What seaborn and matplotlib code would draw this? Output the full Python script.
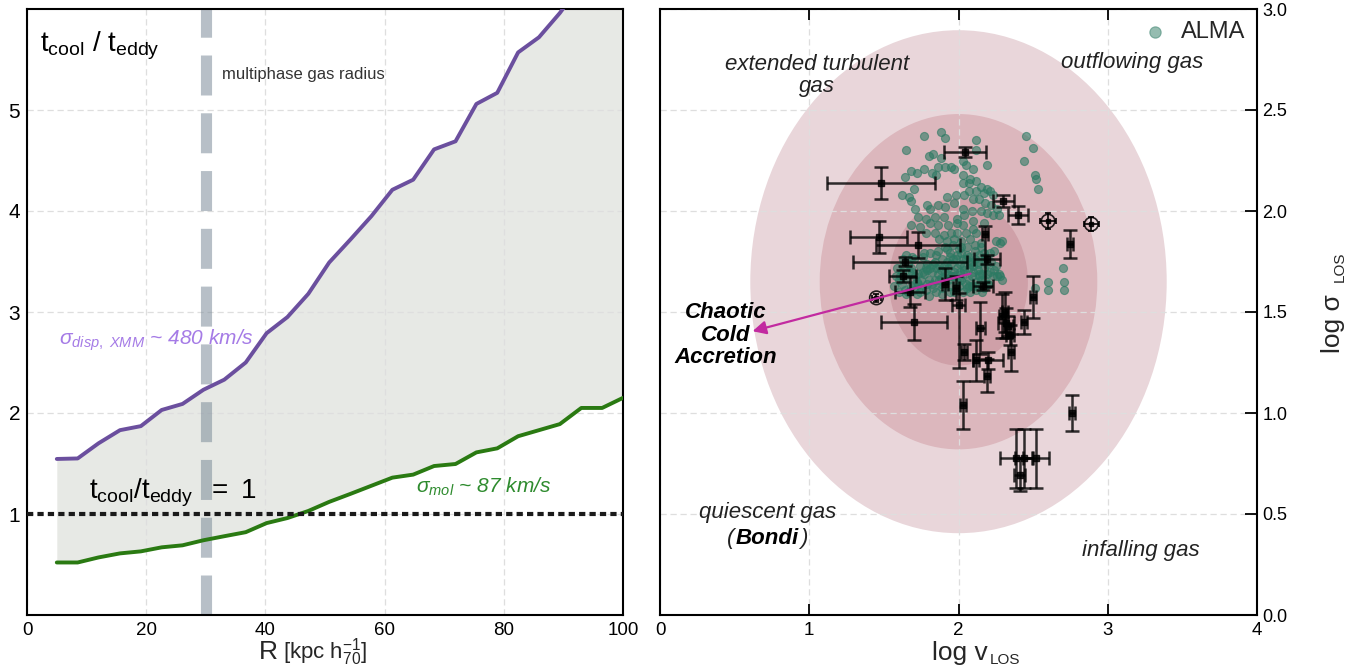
import numpy as np
import pandas as pd
import matplotlib
matplotlib.use("Agg")
import matplotlib.pyplot as plt
from matplotlib.patches import Ellipse
from matplotlib.offsetbox import TextArea, HPacker, AnnotationBbox
import seaborn as sns

sns.set_theme(style="white")
plt.rcParams["font.family"] = ["Liberation Sans", "DejaVu Sans"]
plt.rcParams["mathtext.fontset"] = "custom"
plt.rcParams["mathtext.rm"] = "Liberation Sans"
plt.rcParams["mathtext.it"] = "Liberation Sans:italic"
plt.rcParams["mathtext.bf"] = "Liberation Sans:bold"

# ---------------------------------------------------------------- data
# Left: t_cool / t_eddy profiles versus radius
radius = [5.0, 8.5, 12.0, 15.6, 19.1, 22.6, 26.1, 29.6, 33.1, 36.7, 40.2, 43.7,
          47.2, 50.7, 54.3, 57.8, 61.3, 64.8, 68.3, 71.9, 75.4, 78.9, 82.4,
          85.9, 89.4, 93.0, 96.5, 100.0]
ratio_xmm = [1.545, 1.55, 1.70, 1.83, 1.87, 2.03, 2.09, 2.23, 2.33, 2.50, 2.79,
             2.95, 3.18, 3.49, 3.72, 3.95, 4.21, 4.31, 4.61, 4.69, 5.06, 5.17,
             5.57, 5.72, 5.96, 6.25, 6.45, 6.75]
ratio_mol = [0.52, 0.52, 0.57, 0.61, 0.63, 0.67, 0.69, 0.74, 0.78, 0.82, 0.91,
             0.96, 1.03, 1.12, 1.20, 1.28, 1.36, 1.39, 1.475, 1.495, 1.61, 1.65,
             1.77, 1.83, 1.89, 2.05, 2.05, 2.15]
multiphase_radius = 30.0

# Right: ALMA clouds in the log v_LOS - log sigma_LOS plane
alma_log_v = [
    1.88, 1.91, 1.77, 2.12, 1.65, 2.12, 1.83, 1.80, 1.88, 1.86,
    1.91, 1.95, 1.97, 2.03, 2.05, 2.10, 2.19, 1.82, 1.85, 1.77,
    1.72, 1.68, 1.64, 2.03, 2.08, 2.12, 2.03, 2.07, 2.15, 2.19,
    2.21, 2.07, 2.12, 2.17, 2.23, 1.70, 1.62, 1.67, 1.92, 1.98,
    2.04, 2.10, 2.14, 2.18, 2.22, 2.26, 1.68, 1.71, 1.79, 1.81,
    1.86, 1.91, 1.97, 2.03, 2.09, 2.15, 2.19, 2.23, 2.27, 1.73,
    1.78, 1.84, 1.90, 1.99, 2.04, 2.10, 2.17, 1.68, 1.74, 1.81,
    1.86, 1.93, 1.99, 2.03, 2.10, 1.78, 1.84, 1.90, 1.95, 1.99,
    2.05, 2.12, 1.87, 1.92, 1.97, 2.02, 2.08, 2.15, 2.25, 2.28,
    1.65, 1.70, 1.77, 1.81, 1.86, 1.91, 1.96, 2.00, 2.06, 2.11,
    2.17, 2.21, 1.63, 1.68, 1.74, 1.79, 1.84, 1.89, 1.94, 1.99,
    2.03, 2.09, 2.13, 2.19, 2.25, 1.61, 1.65, 1.71, 1.77, 1.82,
    1.88, 1.93, 1.99, 2.04, 2.10, 2.16, 2.21, 1.62, 1.68, 1.73,
    1.79, 1.84, 1.90, 1.95, 2.01, 2.07, 2.12, 2.18, 2.26, 1.65,
    1.72, 1.78, 1.83, 1.89, 1.94, 2.00, 2.06, 2.12, 2.17, 2.29,
    2.27, 1.66, 1.69, 1.72, 1.75, 1.78, 1.80, 1.83, 1.86, 1.88,
    1.90, 1.93, 1.95, 1.97, 1.99, 2.01, 2.03, 2.05, 2.07, 2.09,
    2.11, 2.13, 2.15, 2.17, 2.19, 2.02, 2.06, 1.94, 1.85, 2.14,
    2.22, 1.62, 1.64, 1.97, 2.08, 1.60, 2.45, 2.50, 2.44, 2.51,
    2.52, 2.53, 2.51, 2.60, 2.60, 2.70, 2.71, 2.71, 2.29, 2.28,
    1.75, 1.82, 1.87, 1.92, 1.98, 2.04, 2.09, 2.14, 2.20, 1.69,
    1.76, 1.81, 1.87, 1.92, 1.96, 2.02, 2.08, 2.13, 2.18, 2.23,
    1.57, 1.58, 1.59, 1.60, 1.63, 1.66, 1.70, 1.74, 1.80, 1.85,
    1.89, 1.94, 1.98, 2.03, 2.07, 2.11, 2.16, 2.20, 2.24, 2.15,
    1.67, 1.73, 1.79, 1.85, 1.91, 1.96, 2.01, 2.05, 2.10, 2.14,
    1.92, 1.97, 2.02, 1.88, 2.07, 2.11, 1.70, 1.76, 2.18, 2.24,
]
alma_log_sigma = [
    2.39, 2.36, 2.37, 2.35, 2.30, 2.30, 2.28, 2.27, 2.26, 2.22,
    2.22, 2.22, 2.21, 2.25, 2.23, 2.21, 2.23, 2.19, 2.18, 2.21,
    2.19, 2.20, 2.17, 2.18, 2.16, 2.15, 2.14, 2.14, 2.12, 2.11,
    2.10, 2.10, 2.10, 2.09, 2.08, 2.11, 2.08, 2.07, 2.07, 2.08,
    2.08, 2.06, 2.06, 2.04, 2.03, 2.01, 2.05, 2.01, 2.03, 2.01,
    2.03, 2.02, 2.04, 2.01, 2.00, 2.00, 1.99, 1.98, 1.98, 1.97,
    1.96, 1.97, 1.97, 1.96, 1.98, 1.95, 1.94, 1.93, 1.92, 1.94,
    1.93, 1.93, 1.94, 1.93, 1.91, 1.89, 1.89, 1.88, 1.89, 1.89,
    1.89, 1.89, 1.86, 1.85, 1.86, 1.85, 1.86, 1.84, 1.85, 1.84,
    1.78, 1.76, 1.79, 1.79, 1.80, 1.82, 1.83, 1.81, 1.82, 1.80,
    1.79, 1.79, 1.73, 1.72, 1.73, 1.74, 1.75, 1.76, 1.77, 1.78,
    1.76, 1.75, 1.74, 1.74, 1.73, 1.68, 1.67, 1.68, 1.69, 1.70,
    1.71, 1.72, 1.72, 1.71, 1.70, 1.69, 1.70, 1.64, 1.63, 1.64,
    1.64, 1.66, 1.67, 1.68, 1.67, 1.66, 1.65, 1.66, 1.68, 1.59,
    1.59, 1.61, 1.62, 1.62, 1.63, 1.63, 1.62, 1.61, 1.62, 1.66,
    1.69, 1.74, 1.70, 1.65, 1.62, 1.72, 1.66, 1.74, 1.69, 1.64,
    1.73, 1.66, 1.74, 1.70, 1.65, 1.74, 1.69, 1.64, 1.72, 1.68,
    1.76, 1.71, 1.66, 1.72, 1.69, 1.79, 1.78, 1.79, 1.78, 1.78,
    1.75, 1.70, 1.61, 1.60, 1.60, 1.66, 2.37, 2.31, 2.25, 2.18,
    2.16, 2.11, 1.62, 1.65, 1.61, 1.72, 1.65, 1.61, 1.85, 1.68,
    1.66, 1.64, 1.73, 1.69, 1.76, 1.73, 1.63, 1.69, 1.64, 1.77,
    1.70, 1.72, 1.66, 1.75, 1.68, 1.66, 1.74, 1.75, 1.77, 1.68,
    1.63, 1.68, 1.72, 1.60, 1.76, 1.60, 1.61, 1.60, 1.58, 1.60,
    1.59, 1.60, 1.62, 1.60, 1.63, 1.63, 1.60, 1.64, 1.71, 1.82,
    1.70, 1.69, 1.71, 1.72, 1.70, 1.76, 1.70, 1.76, 1.73, 1.68,
    1.81, 1.68, 1.82, 1.67, 1.77, 1.83, 1.64, 1.77, 1.76, 1.80,
]

# Other tracers with measurement uncertainties
obs_log_v = [1.48, 2.045, 1.465, 1.73, 1.64, 1.625, 1.91, 1.985, 2.18, 2.19,
             2.165, 2.00, 2.145, 2.12, 2.20, 2.19, 2.04, 2.03, 2.29, 2.31,
             2.32, 2.335, 2.355, 2.345, 2.44, 2.50, 2.75, 2.30, 2.40, 1.675,
             1.70, 2.76, 2.385, 2.44, 2.52, 2.41]
obs_log_sigma = [2.14, 2.29, 1.87, 1.83, 1.75, 1.68, 1.64, 1.62, 1.885, 1.76,
                 1.63, 1.535, 1.42, 1.26, 1.26, 1.185, 1.30, 1.04, 1.48, 1.50,
                 1.445, 1.43, 1.30, 1.385, 1.45, 1.575, 1.835, 2.05, 1.98, 1.60,
                 1.45, 1.00, 0.775, 0.775, 0.775, 0.695]
obs_v_err_lo = [0.36, 0.14, 0.19, 0.28, 0.35, 0.09, 0.02, 0.02, 0.02, 0.085,
                0.067, 0.045, 0.03, 0.02, 0.10, 0.02, 0.02, 0.02, 0.02, 0.02,
                0.055, 0.03, 0.02, 0.03, 0.02, 0.02, 0.02, 0.07, 0.067, 0.10,
                0.22, 0.02, 0.11, 0.06, 0.085, 0.037]
obs_v_err_hi = [0.36, 0.14, 0.19, 0.28, 0.42, 0.09, 0.02, 0.02, 0.02, 0.085,
                0.067, 0.045, 0.03, 0.02, 0.10, 0.02, 0.02, 0.02, 0.02, 0.02,
                0.055, 0.03, 0.02, 0.03, 0.02, 0.02, 0.02, 0.07, 0.067, 0.10,
                0.22, 0.02, 0.11, 0.06, 0.085, 0.037]
obs_sigma_err_lo = [0.08, 0.025, 0.08, 0.065, 0.02, 0.03, 0.08, 0.06, 0.26, 0.02,
                    0.02, 0.31, 0.13, 0.10, 0.04, 0.08, 0.04, 0.12, 0.11, 0.10,
                    0.075, 0.05, 0.09, 0.05, 0.06, 0.105, 0.07, 0.03, 0.046, 0.075,
                    0.09, 0.088, 0.146, 0.146, 0.146, 0.08]
obs_sigma_err_hi = [0.08, 0.025, 0.08, 0.065, 0.02, 0.03, 0.08, 0.06, 0.04, 0.02,
                    0.02, 0.06, 0.13, 0.10, 0.04, 0.08, 0.04, 0.12, 0.11, 0.10,
                    0.075, 0.05, 0.09, 0.05, 0.06, 0.105, 0.07, 0.03, 0.046, 0.075,
                    0.09, 0.088, 0.146, 0.146, 0.146, 0.08]

# Ringed detections
ring_log_v = [1.45, 2.60, 2.89]
ring_log_sigma = [1.57, 1.95, 1.935]
ring_v_err = [0.03, 0.055, 0.05]
ring_sigma_err = [0.02, 0.04, 0.035]

# CCA prediction: 1-2-3 sigma ellipses
cca_center = (2.0, 1.65)
cca_sigma = (0.465, 0.415)
cca_levels = [3, 2, 1]
cca_colors = ["#e9d6da", "#dcb7bd", "#cfa0a8"]

# ---------------------------------------------------------------- figure
fig = plt.figure(figsize=(13.52, 6.66), dpi=100)
ax1 = fig.add_axes([27 / 1352, 51 / 666, 596 / 1352, 606 / 666])
ax2 = fig.add_axes([660 / 1352, 51 / 666, 597 / 1352, 606 / 666])

grid_kw = dict(color="#dedede", linestyle=(0, (5, 3)), linewidth=0.9)

# ----- left panel
prof = pd.DataFrame({"R": radius, "xmm": ratio_xmm, "mol": ratio_mol})
ax1.fill_between(prof["R"], prof["mol"], prof["xmm"], color="#e7e9e5",
                 lw=0, zorder=1)
ax1.axvline(multiphase_radius, color="#7d8c9a", alpha=0.55, lw=8,
            dashes=(3.6, 1.6), zorder=2)
sns.lineplot(data=prof, x="R", y="xmm", ax=ax1, color="#6b4f9e", lw=2.8,
             zorder=4)
sns.lineplot(data=prof, x="R", y="mol", ax=ax1, color="#2a7a12", lw=2.8,
             zorder=4)
ax1.axhline(1.0, color="#1a1a1a", lw=3, dashes=(1.5, 1.0), zorder=5)

ax1.set_xlim(0, 100)
ax1.set_ylim(0, 6)
ax1.set_xticks([0, 20, 40, 60, 80, 100])
ax1.set_yticks([1, 2, 3, 4, 5])
ax1.set_xlabel("")
ax1.set_ylabel("")
ax1.grid(True, **grid_kw)
ax1.set_axisbelow("line")
ax1.tick_params(axis="both", direction="in", length=6, width=1.3,
                colors="black", labelcolor="black")
ax1.tick_params(axis="y", labelsize=15, pad=5)
ax1.tick_params(axis="x", labelsize=13.5, pad=5, length=8)
for s in ax1.spines.values():
    s.set_color("black")
    s.set_linewidth(1.5)

ax1.text(2.2, 5.64, r"$\mathregular{t_{cool}\ /\ t_{eddy}}$", fontsize=20,
         ha="left", va="center", color="black")
ax1.text(32.8, 5.35, "multiphase gas radius", fontsize=12, color="#333333",
         ha="left", va="center")
ax1.text(5.3, 2.72, r"σ$_{\mathit{disp,\ XMM}}$ ~ 480 km/s", fontsize=15,
         style="italic", color="#a57be6", ha="left", va="center")
ax1.text(10.4, 1.21, r"$\mathregular{t_{cool}/t_{eddy}\ \ =\ 1}$",
         fontsize=20, ha="left", va="center", color="black")
ax1.text(65.2, 1.27, r"σ$_{\mathit{mol}}$ ~ 87 km/s", fontsize=15,
         style="italic", color="#2e8b2e", ha="left", va="center")
ax1.text(0.405, -0.072, "R", transform=ax1.transAxes, fontsize=19,
         ha="center", va="baseline")
ax1.text(0.43, -0.072, r"$\mathregular{[kpc\ h_{70}^{-1}]}$",
         transform=ax1.transAxes, fontsize=16, ha="left", va="baseline")

# ----- right panel
for lev, fc in zip(cca_levels, cca_colors):
    ax2.add_patch(Ellipse(cca_center, width=2 * lev * cca_sigma[0],
                          height=2 * lev * cca_sigma[1], facecolor=fc,
                          edgecolor="none", zorder=1))

alma = pd.DataFrame({"log_v": alma_log_v, "log_sigma": alma_log_sigma})
sns.scatterplot(data=alma, x="log_v", y="log_sigma", ax=ax2, s=34,
                color="#2c7a63", alpha=0.6, edgecolor="#2c7a63",
                linewidth=0.8, label="ALMA", zorder=3)

ax2.errorbar(obs_log_v, obs_log_sigma,
             xerr=[obs_v_err_lo, obs_v_err_hi],
             yerr=[obs_sigma_err_lo, obs_sigma_err_hi],
             fmt="s", ms=4, color="black", ecolor="black", elinewidth=1.8,
             capsize=5, capthick=1.8, alpha=0.8, zorder=4)
ax2.errorbar(ring_log_v, ring_log_sigma, xerr=ring_v_err, yerr=ring_sigma_err,
             fmt="s", ms=3.5, color="black", ecolor="black", elinewidth=1.4,
             capsize=2.5, capthick=1.4, alpha=0.85, zorder=4)
ax2.scatter(ring_log_v, ring_log_sigma, s=95, facecolors="none",
            edgecolors="black", linewidths=1.2, alpha=0.85, zorder=5)

ax2.annotate("", xy=(0.62, 1.405), xytext=(2.08, 1.69),
             arrowprops=dict(arrowstyle="-|>", color="#c22aa0", lw=1.6,
                             mutation_scale=20, shrinkA=0, shrinkB=0),
             zorder=6)

ax2.set_xlim(0, 4)
ax2.set_ylim(0, 3)
ax2.set_xticks([0, 1, 2, 3, 4])
ax2.set_yticks([0.0, 0.5, 1.0, 1.5, 2.0, 2.5, 3.0])
ax2.set_yticklabels(["0.0", "0.5", "1.0", "1.5", "2.0", "2.5", "3.0"])
ax2.set_xlabel("")
ax2.set_ylabel("")
ax2.yaxis.tick_right()
ax2.grid(True, **grid_kw)
ax2.set_axisbelow("line")
ax2.tick_params(axis="x", direction="in", length=8, width=1.3, top=True,
                bottom=True, labelsize=13.5, pad=5, colors="black")
ax2.tick_params(axis="y", direction="in", length=9, width=1.3, left=False,
                right=True, labelsize=13, pad=4, colors="black")
for s in ax2.spines.values():
    s.set_color("black")
    s.set_linewidth(1.5)

leg = ax2.legend(loc="upper right", frameon=False, fontsize=17,
                 handletextpad=0.1, borderaxespad=0.1, markerscale=1.4)
for h in leg.legend_handles:
    h.set_alpha(0.5)

txt_kw = dict(fontsize=16, style="italic", color="#222222", ha="center",
              va="center")
ax2.text(1.05, 2.67, "extended turbulent\ngas", linespacing=1.1, **txt_kw)
ax2.text(3.16, 2.735, "outflowing gas", **txt_kw)
ax2.text(3.22, 0.32, "infalling gas", **txt_kw)
ax2.text(0.72, 0.505, "quiescent gas", **txt_kw)
bondi = HPacker(children=[
    TextArea("(", textprops=dict(fontsize=16, style="italic", color="#222222")),
    TextArea("Bondi", textprops=dict(fontsize=16, style="italic",
                                     weight="bold", color="black")),
    TextArea(")", textprops=dict(fontsize=16, style="italic", color="#222222")),
], align="baseline", pad=0, sep=1)
ax2.add_artist(AnnotationBbox(bondi, (0.72, 0.38), xycoords="data",
                              frameon=False, box_alignment=(0.5, 0.5)))
ax2.text(0.44, 1.385, "Chaotic\nCold\nAccretion", fontsize=16, style="italic",
         weight="bold", color="black", ha="center", va="center",
         linespacing=1.1)

ax2.text(0.456, -0.074, "log v", transform=ax2.transAxes, fontsize=19,
         ha="left", va="baseline")
ax2.text(0.553, -0.081, "LOS", transform=ax2.transAxes, fontsize=11,
         ha="left", va="baseline")
ax2.text(1.128, 0.48, "log σ", transform=ax2.transAxes, fontsize=19,
         rotation=90, ha="center", va="center")
ax2.text(1.138, 0.575, "LOS", transform=ax2.transAxes, fontsize=11,
         rotation=90, ha="center", va="center")

fig.savefig("out.png", dpi=100)
